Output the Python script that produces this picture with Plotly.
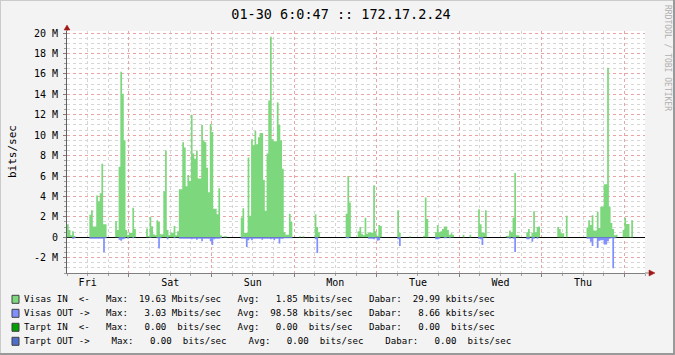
import plotly.graph_objects as go
import pandas as pd

# ---------------- data (Mbits/sec, 30-minute steps, day blocks start 06:00) ----------------
START = "2015-01-23 06:00"
END = "2015-01-30 06:00"
STEP = "30min"

in_fri = [1.27, 0.72, 0.2, 0.6, 0.13, 0, 0, 0, 0, 0, 0, 0, 0,
          2.2, 2.65, 1.05, 1.05, 4.1, 3.5, 4.3, 7.2, 1.27, 1.27, 0, 0, 0, 0, 0,
          1.6, 0.7, 6.9, 16.2, 14.05, 9.5, 0.7, 0.2, 0.45, 0.45, 2.9, 0.8,
          0, 0, 0, 0, 0, 0, 0.85, 0.1]
in_sat = [2.0, 1.08, 0.3, 0.2, 1.67, 1.5, 0.3, 0.3, 4.5, 8.5,
          0.7, 0.2, 0.45, 0.45, 1.1, 0.2, 0.6, 4.7, 4.7, 9.3,
          8.8, 5.0, 6.1, 5.5, 12.0, 8.2, 7.7, 8.5, 5.75, 5.75,
          11.0, 9.5, 9.3, 6.8, 4.4, 11.1, 10.3, 2.8, 2.8, 2.25,
          4.8, 0.2, 0, 0.1, 0.1, 0, 0, 0]
in_sun = [0, 0, 0, 0, 0, 1.93, 2.85, 0.45, 0.45, 7.8, 2.1, 9.6, 9.0, 10.4, 9.1,
          9.8, 10.2, 10.2, 5.6, 2.6, 8.2, 13.4, 19.63, 9.6, 9.4,
          9.4, 13.2, 11.0, 9.5, 6.7, 0.5, 0.25, 0.25, 2.3, 1.5,
          0, 0, 0, 0, 0.1, 0, 0.1, 0, 0, 0, 0, 0, 0]
in_mon = [2.25, 1.0, 0.5, 0, 0, 0, 0, 0, 0, 0, 0, 0, 0, 0, 0, 0, 0, 0,
          2.3, 6.0, 3.4, 0, 0, 0, 0,
          0.6, 1.0, 0.35, 0.2, 1.9, 0.35, 0.45, 0.5, 0.45, 5.1, 0.6, 0.15, 1.2, 1.1,
          0, 0, 0, 0, 0, 0, 0, 0, 0]
in_tue = [2.65, 0.45, 0, 0, 0, 0, 0, 0.1, 0, 0, 0, 0, 0, 0, 0,
          0.15, 3.9, 1.8, 0, 0, 0, 0,
          0.5, 1.2, 0.5, 0.6, 0.8, 1.05, 1.05, 0.7, 0.25, 0.4, 0.25,
          0, 0, 0, 0, 0, 0.25, 0, 0, 0, 0.25, 0, 0, 0, 0, 2.75]
in_wed = [1.27, 0.45, 0.45, 2.65, 0, 0, 0, 0, 0, 0, 0, 0, 0, 0, 0,
          0.13, 0.15, 0.65, 0.5, 1.9, 6.3, 0.2, 0.2, 0, 0, 0, 0,
          0.5, 0.8, 0.1, 0.45, 2.55, 0.5, 1.0, 1.05,
          0, 0, 0, 0, 0, 0, 0, 0, 0, 0, 1.0, 0.8, 0.4]
in_thu = [0.4, 0, 2.1, 0, 0, 0, 0, 0, 0, 0, 0, 0, 0, 0,
          0.95, 1.67, 1.2, 2.15, 0.65, 0.65, 2.5, 0.9, 3.0, 3.0, 5.2, 5.2, 16.6, 3.0,
          1.4, 0.8, 0.2, 0.25, 0, 0, 0, 0.7, 1.9, 1.3, 1.3, 0.05, 1.67,
          0, 0, 0, 0, 0, 0, 0]

out_fri = [0, 0, 0, 0.15, 0.1, 0, 0, 0, 0, 0, 0, 0, 0,
           0.15, 0.15, 0.15, 0.15, 0.15, 0.15, 0.15, 0.15, 1.47, 0.1, 0, 0, 0, 0, 0,
           0, 0, 0.25, 0.35, 0.2, 0.15, 0, 0.15, 0, 0, 0.1, 0,
           0, 0, 0, 0, 0, 0, 0, 0]
out_sat = [0.05, 0, 0, 0, 0.1, 1.1, 0.1, 0, 0, 0, 0.2, 0, 0, 0, 0.1, 0, 0,
           0.15, 0.15, 0.15, 0.15, 0.15, 0.15, 0.15, 0.2, 0.15, 0.15, 0.25, 0.15, 0.15,
           0.4, 0.15, 0.15, 0.15, 0.15, 0.4, 0.75, 0.2, 0.15, 0.15, 0.15, 0.1,
           0, 0, 0, 0, 0, 0]
out_sun = [0, 0, 0, 0, 0, 0.15, 0.15, 0.15, 0.95, 0.3, 0.15, 0.3, 0.15, 0.15, 0.15,
           0.15, 0.15, 0.25, 0.15, 0.15, 0.15, 0.15, 0.2, 0.15, 0.3,
           0.15, 0.15, 0.6, 0.15, 0.15, 0.1, 0.1, 0.1, 0.1, 0.1,
           0, 0, 0, 0, 0, 0, 0, 0, 0, 0, 0, 0, 0]
out_mon = [0.2, 1.55, 0, 0, 0, 0, 0, 0, 0, 0, 0, 0, 0, 0, 0, 0, 0, 0,
           0.1, 0.1, 0, 0, 0, 0, 0, 0, 0, 0, 0, 0, 0,
           0.15, 0.15, 0.15, 0.2, 0.1, 0.35, 0.3,
           0, 0, 0, 0, 0, 0, 0, 0, 0, 0]
out_tue = [0.2, 0.85, 0, 0, 0, 0, 0, 0, 0, 0, 0, 0, 0, 0, 0, 0, 0, 0, 0, 0, 0, 0,
           0.2, 0.2, 0.15, 0, 0, 0.1, 0.1, 0, 0.1,
           0, 0, 0, 0, 0, 0, 0, 0, 0, 0, 0, 0, 0, 0, 0, 0, 0.15]
out_wed = [0.2, 0.75, 0, 0, 0, 0, 0, 0, 0, 0, 0, 0, 0, 0, 0, 0,
           0.1, 0.15, 0, 0.15, 1.44, 0, 0, 0, 0, 0, 0,
           0.2, 0.2, 0, 0.45, 0.15, 0, 0.15,
           0, 0, 0, 0, 0, 0, 0, 0, 0, 0, 0, 0, 0, 0]
out_thu = [0, 0, 0, 0, 0, 0, 0, 0, 0, 0, 0, 0, 0, 0,
           0.15, 0.15, 0.45, 0.85, 0.1, 0.1, 1.05, 0.35, 0.3, 0.3, 0.7, 0.7, 0.4, 0.15,
           0.1, 3.03, 0.1,
           0, 0, 0, 0, 0, 0, 0, 0, 0, 0, 0, 0, 0, 0, 0, 0, 0]

y_ticks_M = [-2, 0, 2, 4, 6, 8, 10, 12, 14, 16, 18, 20]
Y_MINOR_STEP_M = 0.5
Y_RANGE_M = [-3.5, 20.2]

series_names = ["Visas IN  <-", "Visas OUT ->", "Tarpt IN  <-", "Tarpt OUT ->"]
max_vals = [19.63, 3.03, 0.00, 0.00]
max_units = ["Mbits/sec", "Mbits/sec", " bits/sec", " bits/sec"]
avg_vals = [1.85, 98.58, 0.00, 0.00]
avg_units = ["Mbits/sec", "kbits/sec", " bits/sec", " bits/sec"]
cur_vals = [29.99, 8.66, 0.00, 0.00]
cur_units = ["kbits/sec", "kbits/sec", " bits/sec", " bits/sec"]
separators = ["   ", "   ", "   ", "    "]

TITLE = "01-30 6:0:47 :: 172.17.2.24"
Y_LABEL = "bits/sec"
WATERMARK = "RRDTOOL / TOBI OETIKER"

# ---------------- styling ----------------
GREEN = "#7DD87D"
BLUE = "#8090FF"
DGREEN = "#00A000"
DBLUE = "#4F6FC8"
colors = [GREEN, BLUE, DGREEN, DBLUE]
MONO = "DejaVu Sans Mono"

W, H = 675, 355
PL, PR, PT, PB = 67, 645, 31, 273


def px(x):
    return (x - PL) / (PR - PL)


def py(y):
    return (PB - y) / (PB - PT)


vis_in = in_fri + in_sat + in_sun + in_mon + in_tue + in_wed + in_thu
vis_out = out_fri + out_sat + out_sun + out_mon + out_tue + out_wed + out_thu
times = pd.date_range(START, periods=len(vis_in) + 1, freq=STEP)
y_in = [v * 1e6 for v in vis_in] + [vis_in[-1] * 1e6]
y_out = [-v * 1e6 for v in vis_out] + [-vis_out[-1] * 1e6]

fig = go.Figure()
fig.add_trace(go.Scatter(x=times, y=y_in, mode="lines", line=dict(shape="hv", width=0, color=GREEN),
                         fill="tozeroy", fillcolor=GREEN, hoverinfo="skip", showlegend=False))
fig.add_trace(go.Scatter(x=times, y=y_out, mode="lines", line=dict(shape="hv", width=0, color=BLUE),
                         fill="tozeroy", fillcolor=BLUE, hoverinfo="skip", showlegend=False))
zeros = [0.0] * len(times)
fig.add_trace(go.Scatter(x=times, y=zeros, xaxis="x2", mode="lines", line=dict(width=0, color=DGREEN),
                         hoverinfo="skip", showlegend=False))
fig.add_trace(go.Scatter(x=times, y=zeros, xaxis="x2", mode="lines", line=dict(width=0, color=DBLUE),
                         hoverinfo="skip", showlegend=False))

t_start, t_end = pd.Timestamp(START), pd.Timestamp(END)
midnights = list(pd.date_range(t_start.ceil("D"), t_end, freq="D"))
six_hours = [t for t in pd.date_range(t_start, t_end, freq="6h") if t.hour != 0]
noons = [t for t in pd.date_range(t_start.floor("D") + pd.Timedelta(hours=12), t_end, freq="D")
         if t_start <= t <= t_end]
day_names = [t.strftime("%a") for t in noons]

n_minor = int(round((Y_RANGE_M[1] - Y_RANGE_M[0]) / Y_MINOR_STEP_M)) + 2
y_minor = []
for k in range(n_minor):
    v = round(-4 + k * Y_MINOR_STEP_M, 3)
    if Y_RANGE_M[0] <= v <= Y_RANGE_M[1] and v not in y_ticks_M:
        y_minor.append(v * 1e6)

MINOR_GRID = "#D6D6D6"
MAJOR_GRID = "#E9A3A3"

fig.update_layout(
    width=W, height=H, autosize=False,
    margin=dict(l=PL, r=W - PR, t=PT, b=H - PB, pad=0),
    paper_bgcolor="#F3F3F3", plot_bgcolor="#FFFFFF",
    hovermode=False, showlegend=False,
    font=dict(family=MONO, size=10, color="#000000"),
    title=dict(text=TITLE, x=341 / W, y=1 - 14 / H, xref="container", yref="container",
               xanchor="center", yanchor="middle", font=dict(family=MONO, size=13.5, color="#000000")),
    xaxis=dict(type="date", range=[START, END], tickmode="array", tickvals=midnights,
               showticklabels=False, showgrid=True, gridcolor=MAJOR_GRID, griddash="dot", gridwidth=1,
               ticks="outside", ticklen=3, tickcolor="#808080",
               showline=True, linecolor="#808080", linewidth=1, zeroline=False,
               minor=dict(tickmode="array", tickvals=six_hours,
                          showgrid=True, gridcolor=MINOR_GRID, griddash="dot", gridwidth=1,
                          ticks="outside", ticklen=2, tickcolor="#A0A0A0")),
    xaxis2=dict(type="date", range=[START, END], overlaying="x", anchor="y", side="bottom",
                tickmode="array", tickvals=noons, ticktext=day_names,
                showgrid=False, showline=False, zeroline=False, ticks="",
                tickfont=dict(family=MONO, size=10, color="#000000"), ticklabelstandoff=2),
    yaxis=dict(range=[v * 1e6 for v in Y_RANGE_M], tickmode="array",
               tickvals=[v * 1e6 for v in y_ticks_M],
               ticktext=[("%d M" % v) if v != 0 else "0" for v in y_ticks_M],
               showgrid=True, gridcolor=MAJOR_GRID, griddash="dot", gridwidth=1,
               ticks="outside", ticklen=3, tickcolor="#808080",
               showline=True, linecolor="#606060", linewidth=1,
               zeroline=True, zerolinecolor="#000000", zerolinewidth=1.3,
               tickfont=dict(family=MONO, size=10, color="#000000"), ticklabelstandoff=3,
               minor=dict(tickmode="array", tickvals=y_minor, showgrid=True, gridcolor=MINOR_GRID,
                          griddash="dot", gridwidth=1, ticks="outside", ticklen=2, tickcolor="#A0A0A0")),
)

shapes = []
# frame
shapes.append(dict(type="line", xref="paper", yref="paper", x0=px(0), x1=px(W), y0=py(0.5), y1=py(0.5),
                   line=dict(color="#CBCBCB", width=1)))
shapes.append(dict(type="line", xref="paper", yref="paper", x0=px(0.5), x1=px(0.5), y0=py(0), y1=py(H),
                   line=dict(color="#CBCBCB", width=1)))
shapes.append(dict(type="line", xref="paper", yref="paper", x0=px(0), x1=px(W), y0=py(H - 1), y1=py(H - 1),
                   line=dict(color="#999999", width=2)))
shapes.append(dict(type="line", xref="paper", yref="paper", x0=px(W - 1), x1=px(W - 1), y0=py(0), y1=py(H),
                   line=dict(color="#999999", width=2)))
# axis arrows
ARROW = "#A01818"
shapes.append(dict(type="line", xref="paper", yref="paper", x0=px(PL), x1=px(PL), y0=py(PT), y1=py(27),
                   line=dict(color="#606060", width=1)))
shapes.append(dict(type="path", xref="paper", yref="paper",
                   path=f"M {px(64)},{py(30)} L {px(70)},{py(30)} L {px(67)},{py(25)} Z",
                   fillcolor=ARROW, line=dict(color=ARROW, width=0.5)))
shapes.append(dict(type="line", xref="paper", yref="paper", x0=px(PR), x1=px(650), y0=py(PB), y1=py(PB),
                   line=dict(color="#808080", width=1)))
shapes.append(dict(type="path", xref="paper", yref="paper",
                   path=f"M {px(649)},{py(270)} L {px(649)},{py(276)} L {px(655)},{py(273)} Z",
                   fillcolor=ARROW, line=dict(color=ARROW, width=0.5)))

annotations = []
legend_y = [299.3, 313.3, 327.3, 341.3]
NB = "\u00a0"
for i, name in enumerate(series_names):
    sep = separators[i]
    line = (f"{name}{sep}Max:{max_vals[i]:7.2f} {max_units[i]}{sep}Avg:{avg_vals[i]:7.2f} {avg_units[i]}"
            f"{sep}Dabar:{cur_vals[i]:7.2f} {cur_units[i]}")
    annotations.append(dict(xref="paper", yref="paper", x=px(22), y=py(legend_y[i]), xanchor="left",
                            yanchor="middle", showarrow=False, text=line.replace(" ", NB),
                            font=dict(family=MONO, size=9.1, color="#000000")))
    shapes.append(dict(type="rect", xref="paper", yref="paper", x0=px(12), x1=px(19),
                       y0=py(legend_y[i] + 4), y1=py(legend_y[i] - 4),
                       fillcolor=colors[i], line=dict(color="#404040", width=1)))

annotations.append(dict(xref="paper", yref="paper", x=px(12), y=py(152), textangle=-90, showarrow=False,
                        text=Y_LABEL, xanchor="center", yanchor="middle",
                        font=dict(family=MONO, size=11, color="#000000")))
annotations.append(dict(xref="paper", yref="paper", x=px(667), y=py(58), textangle=90, showarrow=False,
                        text=WATERMARK.replace(" ", NB), xanchor="center", yanchor="middle",
                        font=dict(family=MONO, size=8, color="#B0B0B0")))

fig.update_layout(shapes=shapes, annotations=annotations)
fig.write_html("out.html")
